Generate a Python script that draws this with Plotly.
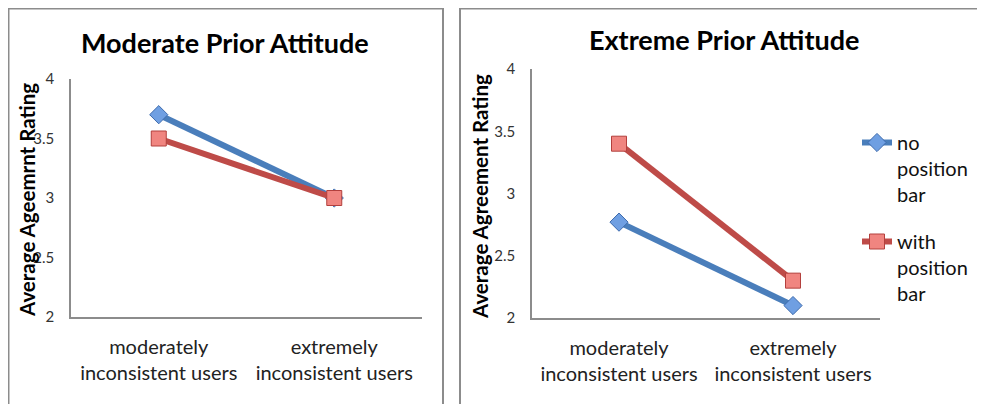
import plotly.graph_objects as go

# data
categories = ["moderately<br>inconsistent users", "extremely<br>inconsistent users"]
moderate_no_bar = [3.70, 3.00]
moderate_with_bar = [3.50, 3.00]
extreme_no_bar = [2.77, 2.10]
extreme_with_bar = [3.40, 2.30]
series_names = ["no<br>position<br>bar", "with<br>position<br>bar"]
y_ticks = [2, 2.5, 3, 3.5, 4]

# page body has an 8px margin, so the figure is drawn at (8, 8) in the window
OFF = 8
W, H = 985 - OFF, 404 - OFF
FONT = "Lato, 'Open Sans', sans-serif"
BLUE_LINE, BLUE_FILL, BLUE_EDGE = "#4a7ebb", "#6f9fe2", "#3d6bad"
RED_LINE, RED_FILL, RED_EDGE = "#be4b48", "#f08580", "#b3403d"
GRAY = "#8c8c8c"


def px_x(p):
    return (p - OFF) / W


def px_y(p):
    return 1 - (p - OFF) / H


def frame(points):
    # open outline of a chart panel, given in window pixels
    d = " L ".join(f"{px_x(x):.5f},{px_y(y):.5f}" for x, y in points)
    return dict(type="path", xref="paper", yref="paper", path="M " + d,
                line=dict(color=GRAY, width=2))


fig = go.Figure()

panels = [
    ("x", "y", moderate_no_bar, moderate_with_bar, False),
    ("x2", "y2", extreme_no_bar, extreme_with_bar, True),
]
for xa, ya, no_bar, with_bar, show in panels:
    fig.add_trace(go.Scatter(
        x=categories, y=no_bar, xaxis=xa, yaxis=ya, mode="lines+markers",
        name=series_names[0], legendgroup="a", showlegend=show,
        line=dict(color=BLUE_LINE, width=6),
        marker=dict(symbol="diamond", size=14, color=BLUE_FILL, line=dict(color=BLUE_EDGE, width=1)),
    ))
    fig.add_trace(go.Scatter(
        x=categories, y=with_bar, xaxis=xa, yaxis=ya, mode="lines+markers",
        name=series_names[1], legendgroup="b", showlegend=show,
        line=dict(color=RED_LINE, width=6),
        marker=dict(symbol="square", size=15, color=RED_FILL, line=dict(color=RED_EDGE, width=1)),
    ))

xaxis_common = dict(
    type="category", showgrid=False, zeroline=False, showline=True,
    linecolor=GRAY, linewidth=1.5, ticks="", automargin=False,
    tickfont=dict(family=FONT, size=20, color="#222"), ticklabelstandoff=11,
    range=[-0.5, 1.5],
)
yaxis_common = dict(
    range=[2, 4], tickvals=y_ticks, ticktext=[f"{v:g}" for v in y_ticks],
    showgrid=False, zeroline=False, showline=True, linecolor=GRAY,
    linewidth=1.5, ticks="", automargin=False, ticklabelstandoff=12,
    tickfont=dict(family=FONT, size=15, color="#333"),
)


def label(text, x, y, size, angle=0):
    return dict(text=text, x=px_x(x), y=px_y(y), xref="paper", yref="paper",
                xanchor="center", yanchor="middle", showarrow=False,
                textangle=angle, font=dict(family=FONT, size=size, color="black"))


fig.update_layout(
    width=W, height=H,
    margin=dict(l=0, r=0, t=0, b=0),
    paper_bgcolor="white", plot_bgcolor="white",
    xaxis=dict(domain=[px_x(71), px_x(422)], anchor="y", **xaxis_common),
    yaxis=dict(domain=[px_y(317), px_y(79)], anchor="x", **yaxis_common),
    xaxis2=dict(domain=[px_x(532), px_x(880)], anchor="y2", **xaxis_common),
    yaxis2=dict(domain=[px_y(318), px_y(69)], anchor="x2", **yaxis_common),
    showlegend=True,
    legend=dict(
        x=px_x(857), y=px_y(123), xanchor="left", yanchor="top",
        valign="top", tracegroupgap=18, bgcolor="rgba(0,0,0,0)",
        font=dict(family=FONT, size=20, color="#111"),
    ),
    shapes=[
        frame([(8.5, 410), (8.5, 8.5), (443, 8.5), (443, 410)]),
        frame([(460, 410), (460, 8.5), (990, 8.5)]),
    ],
    annotations=[
        label("<b>Moderate Prior Attitude</b>", 225, 42, 27),
        label("<b>Extreme Prior Attitude</b>", 724, 40, 27),
        label("<b>Average Ageemrnt Rating</b>", 27, 200, 20.5, -90),
        label("<b>Average Agreement Rating</b>", 480, 197, 20.5, -90),
    ],
)

fig.write_html("out.html")
